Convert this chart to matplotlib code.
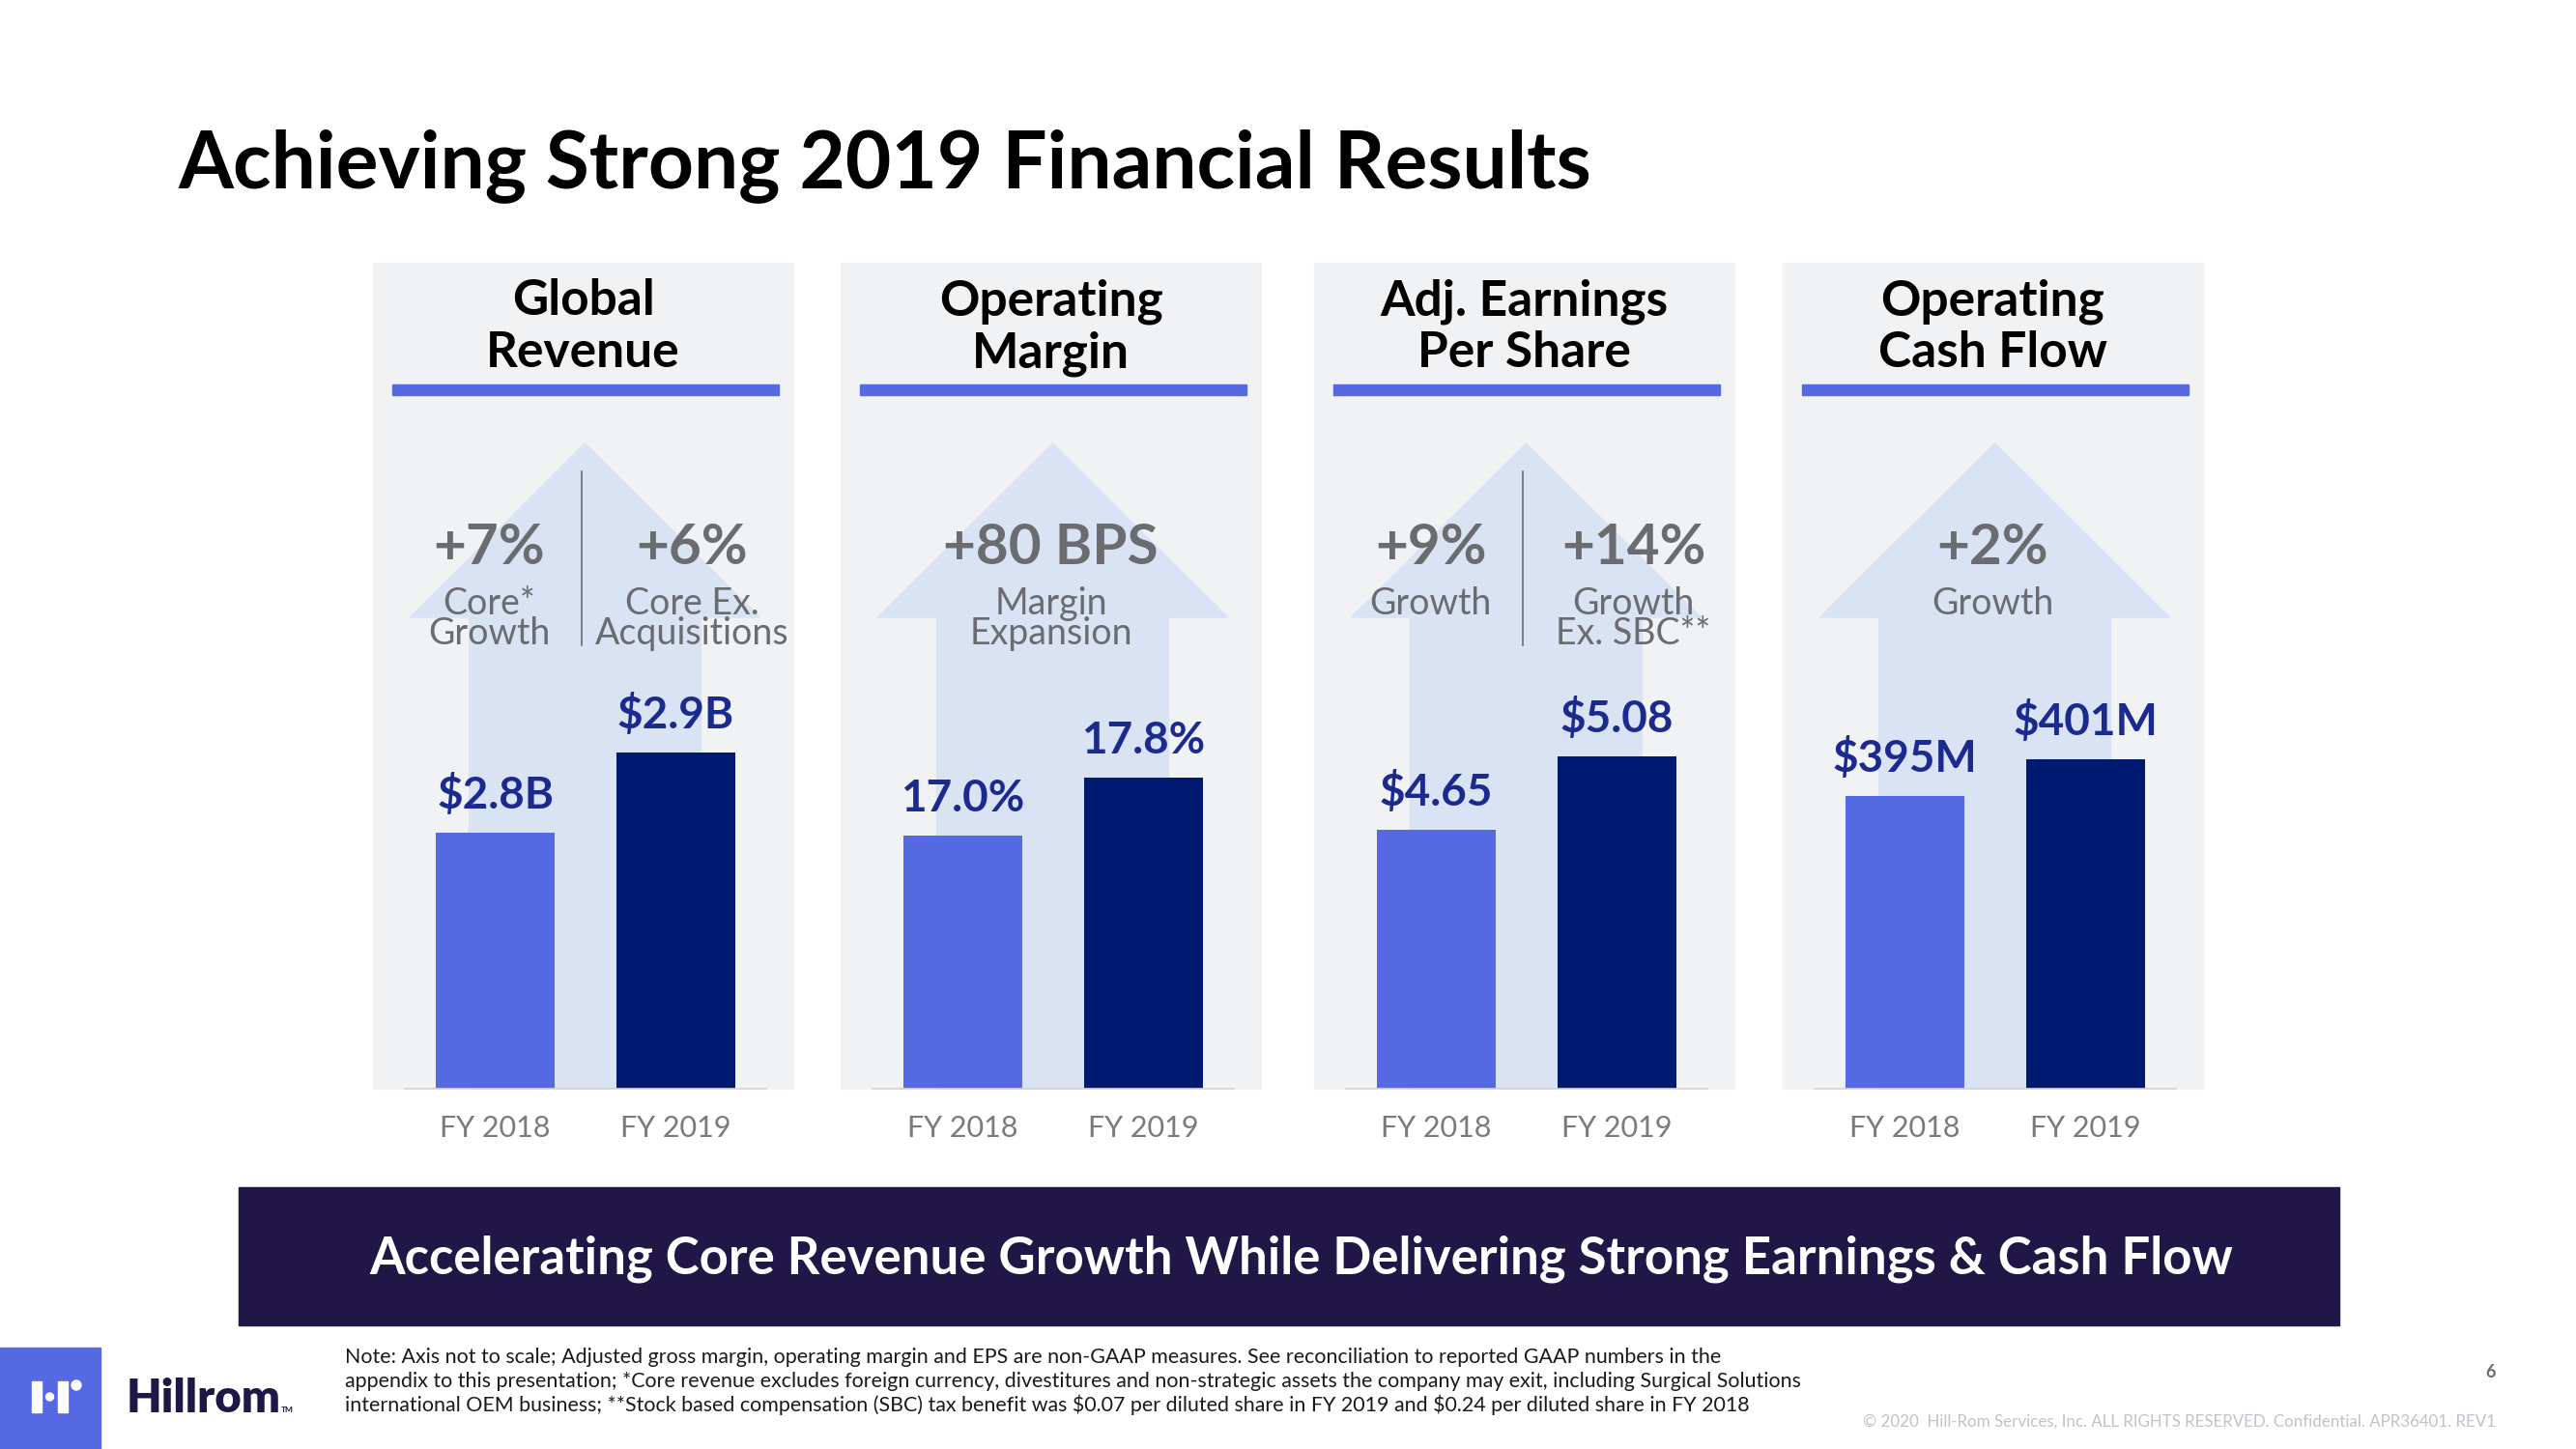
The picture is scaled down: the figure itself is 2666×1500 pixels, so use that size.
import matplotlib.pyplot as plt
from matplotlib.patches import Rectangle, Polygon, Circle

plt.rcParams['font.family'] = ['Lato', 'DejaVu Sans']

# === data ===
years = ["FY 2018", "FY 2019"]
revenue = [2.8, 2.9]          # $B
op_margin = [17.0, 17.8]      # %
adj_eps = [4.65, 5.08]        # $ per share
op_cash_flow = [395, 401]     # $M

headers = ["Global\nRevenue", "Operating\nMargin", "Adj. Earnings\nPer Share", "Operating\nCash Flow"]
series = [revenue, op_margin, adj_eps, op_cash_flow]
formats = ["${:.1f}B", "{:.1f}%", "${:.2f}", "${:.0f}M"]

callouts_rev = [("+7%", "Core*\nGrowth"), ("+6%", "Core Ex.\nAcquisitions")]
callouts_margin = [("+80 BPS", "Margin\nExpansion")]
callouts_eps = [("+9%", "Growth"), ("+14%", "Growth\nEx. SBC**")]
callouts_cash = [("+2%", "Growth")]
callouts = [callouts_rev, callouts_margin, callouts_eps, callouts_cash]

title = "Achieving Strong 2019 Financial Results"
banner = "Accelerating Core Revenue Growth While Delivering Strong Earnings & Cash Flow"
note_lines = [
    "Note: Axis not to scale; Adjusted gross margin, operating margin and EPS are non-GAAP measures. See reconciliation to reported GAAP numbers in the",
    "appendix to this presentation; *Core revenue excludes foreign currency, divestitures and non-strategic assets the company may exit, including Surgical Solutions",
    "international OEM business; **Stock based compensation (SBC) tax benefit was $0.07 per diluted share in FY 2019 and $0.24 per diluted share in FY 2018",
]
copyright_txt = "\u00a9 2020  Hill-Rom Services, Inc. ALL RIGHTS RESERVED. Confidential. APR36401. REV1"

# === layout / style ===
W, H = 2666, 1500
PANEL = "#F1F2F4"
ARROW = "#DAE3F3"
BLUE = "#5569E2"
NAVY_BAR = "#001A72"
LABEL = "#1B2A8E"
GRAY = "#6B6C70"
FYGRAY = "#7B7B7B"
BANNER = "#201747"

panel_left = [386, 870, 1360, 1845]
# axis not to scale: each panel gets its own cut-off baseline
ylims = [(2.481, 2.9955), (13.513, 19.206), (3.146, 5.546), (347.2, 414.6)]

fig = plt.figure(figsize=(W / 100, H / 100), dpi=100)
bg = fig.add_axes([0, 0, 1, 1])
bg.set_xlim(0, W)
bg.set_ylim(H, 0)
bg.axis('off')


def px_axes(x0, y0, x1, y1):
    return fig.add_axes([x0 / W, 1 - y1 / H, (x1 - x0) / W, (y1 - y0) / H])


bg.text(184, 194, title, ha='left', va='baseline', fontsize=59, fontweight='bold', color='black')

for i, L in enumerate(panel_left):
    C = L + 217.5
    bg.add_patch(Rectangle((L, 272), 435, 855, color=PANEL, zorder=0))
    h1, h2 = headers[i].split("\n")
    bg.text(C, 326, h1, ha='center', va='baseline', fontsize=37, fontweight='bold', color='black')
    bg.text(C, 380, h2, ha='center', va='baseline', fontsize=37, fontweight='bold', color='black')
    bg.add_patch(Rectangle((L + 20, 398), 400, 11, color=BLUE, zorder=1))

    # big up arrow behind the bars
    a = C + 2
    bg.add_patch(Polygon([(a, 459), (a + 181, 639), (a + 120, 639), (a + 120, 1127),
                          (a - 120, 1127), (a - 120, 639), (a - 181, 639)],
                         closed=True, color=ARROW, zorder=1))

    co = callouts[i]
    if len(co) == 2:
        xs = [C - 97, C + 113]
        bg.plot([C - 2, C - 2], [488, 668], color=GRAY, lw=1.2, zorder=2)
    else:
        xs = [C]
    for x, (num, sub) in zip(xs, co):
        bg.text(x, 584, num, ha='center', va='baseline', fontsize=42, fontweight='bold', color=GRAY, zorder=3)
        for k, line in enumerate(sub.split("\n")):
            bg.text(x, 636 + 31 * k, line, ha='center', va='baseline', fontsize=27, color=GRAY, zorder=3)

    # bars
    ax = px_axes(L + 33, 700, L + 407, 1127)
    ax.patch.set_alpha(0)
    vals = series[i]
    xpos = range(len(years))
    ax.bar(xpos, vals, width=0.663, color=[BLUE, NAVY_BAR], zorder=2)
    ax.set_xlim(-0.5, 1.5)
    ax.set_ylim(*ylims[i])
    for x, v in zip(xpos, vals):
        ax.annotate(formats[i].format(v), (x, v), xytext=(0, 18), textcoords='offset points',
                    ha='center', va='baseline', fontsize=33, fontweight='bold', color=LABEL)
    ax.set_yticks([])
    ax.set_xticks(list(xpos), years)
    ax.tick_params(axis='x', length=0, pad=36, labelsize=22, labelcolor=FYGRAY)
    for lbl in ax.get_xticklabels():
        lbl.set_va('baseline')
    for s in ['top', 'left', 'right']:
        ax.spines[s].set_visible(False)
    ax.spines['bottom'].set_color('#D3D3D3')
    ax.spines['bottom'].set_linewidth(1.2)

# banner
bg.add_patch(Rectangle((247, 1229), 2174, 143, color=BANNER, zorder=1))
bg.text(1347, 1318, banner, ha='center', va='baseline', fontsize=38, fontweight='bold', color='white', zorder=2)

# footer logo
bg.add_patch(Rectangle((0, 1395), 104, 105, color=BLUE, zorder=1))
bg.add_patch(Rectangle((33, 1430), 10, 32, color='white', zorder=2))
bg.add_patch(Rectangle((60, 1430), 10, 32, color='white', zorder=2))
bg.add_patch(Circle((51.5, 1446), 4, color='white', zorder=2))
bg.add_patch(Circle((79, 1434), 5, color='white', zorder=2))
bg.text(131, 1462, "Hillrom", ha='left', va='baseline', fontsize=34, fontweight='heavy', color=BANNER)
bg.text(291, 1462, "TM", ha='left', va='baseline', fontsize=6, fontweight='bold', color=BANNER)

for k, line in enumerate(note_lines):
    bg.text(357, 1405 + 24.5 * k, line, ha='left', va='center', fontsize=15.4, color='#1A1A1A', parse_math=False)

bg.text(2583, 1420, "6", ha='right', va='center', fontsize=13, fontweight='bold', color=GRAY)
bg.text(2583, 1472, copyright_txt, ha='right', va='center', fontsize=12.2, color='#BFC3CA')

fig.savefig('out.png', dpi=100)
